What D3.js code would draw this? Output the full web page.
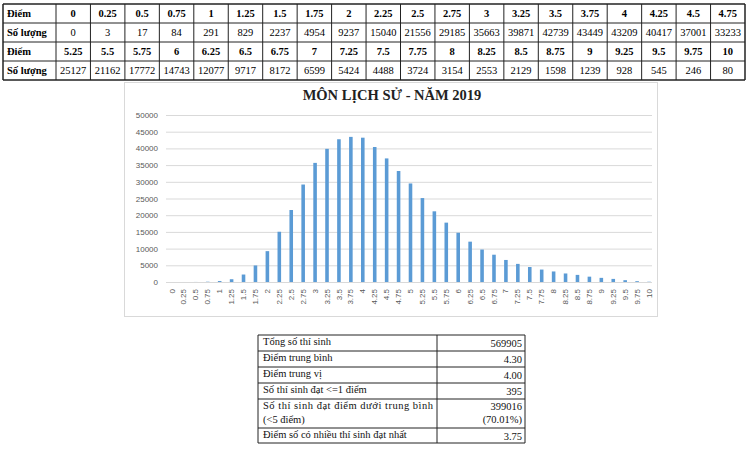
<!DOCTYPE html>
<html>
<head>
<meta charset="utf-8">
<script src="https://cdn.jsdelivr.net/npm/d3@7"></script>
<style>
  html, body { margin: 0; padding: 0; background: #fff; }
  svg { display: block; }
</style>
</head>
<body>
<svg id="c" width="750" height="449"></svg>
<script>
// ---- data ----
const scores = ["0","0.25","0.5","0.75","1","1.25","1.5","1.75","2","2.25","2.5","2.75","3","3.25","3.5","3.75","4","4.25","4.5","4.75","5","5.25","5.5","5.75","6","6.25","6.5","6.75","7","7.25","7.5","7.75","8","8.25","8.5","8.75","9","9.25","9.5","9.75","10"];
const counts = [0,3,17,84,291,829,2237,4954,9237,15040,21556,29185,35663,39871,42739,43449,43209,40417,37001,33233,29500,25127,21162,17772,14743,12077,9717,8172,6599,5424,4488,3724,3154,2553,2129,1598,1239,928,545,246,80];
const yTicks = [0,5000,10000,15000,20000,25000,30000,35000,40000,45000,50000];
const title = "MÔN LỊCH SỬ - NĂM 2019";
const rowHeaderScore = "Điểm";
const rowHeaderCount = "Số lượng";
const summaryLabels = [["Tổng số thí sinh"],["Điểm trung bình"],["Điểm trung vị"],["Số thí sinh đạt <=1 điểm"],["Số thí sinh đạt điểm dưới trung bình","(<5 điểm)"],["Điểm số có nhiều thí sinh đạt nhất"]];
const summaryValues = [["569905"],["4.30"],["4.00"],["395"],["399016","(70.01%)"],["3.75"]];

const svg = d3.select("#c");
const serif = "'Liberation Serif', 'Times New Roman', serif";
const sans = "'Liberation Sans', Arial, sans-serif";

// ---- top table ----
(function(){
  const g = svg.append("g");
  const x0 = 3, xh = 56, x1 = 745;
  const rows = [4, 23, 42, 61, 80];
  const nCols = 20;
  const colX = d3.scaleLinear().domain([0, nCols]).range([xh, x1]);
  const topIdx = d3.range(0, 20), botIdx = d3.range(21, 41);
  const blocks = [topIdx, botIdx];
  blocks.forEach((idx, b) => {
    const yS = rows[b*2], yC = rows[b*2+1];
    g.append("text").attr("x", x0+4).attr("y", yS+13).text(rowHeaderScore)
      .attr("font-family", serif).attr("font-size", 10.5).attr("font-weight", "bold");
    g.append("text").attr("x", x0+4).attr("y", yC+13).text(rowHeaderCount)
      .attr("font-family", serif).attr("font-size", 10.5).attr("font-weight", "bold");
    g.selectAll(null).data(idx).enter().append("text")
      .attr("x", (d,i) => colX(i+0.5)).attr("y", yS+13).attr("text-anchor","middle")
      .attr("font-family", serif).attr("font-size", 10.5).attr("font-weight","bold")
      .text(d => scores[d]);
    g.selectAll(null).data(idx).enter().append("text")
      .attr("x", (d,i) => colX(i+0.5)).attr("y", yC+13).attr("text-anchor","middle")
      .attr("font-family", serif).attr("font-size", 10.5)
      .text(d => counts[d]);
  });
  rows.forEach((y, i) => {
    g.append("line").attr("x1", x0).attr("x2", x1).attr("y1", y).attr("y2", y)
      .attr("stroke", "#222").attr("stroke-width", (i===0||i===4)?1.5:1);
  });
  const vx = [x0, xh].concat(d3.range(1, nCols+1).map(i => colX(i)));
  vx.forEach((x, i) => {
    g.append("line").attr("x1", x).attr("x2", x).attr("y1", rows[0]).attr("y2", rows[4])
      .attr("stroke", "#222").attr("stroke-width", (i===0||i===vx.length-1)?1.5:1);
  });
})();

// ---- chart ----
(function(){
  const g = svg.append("g");
  g.append("rect").attr("x", 124.5).attr("y", 82.5).attr("width", 533).attr("height", 234)
    .attr("fill", "#fff").attr("stroke", "#d9d9d9");
  g.append("text").attr("x", 392).attr("y", 100).attr("text-anchor","middle")
    .attr("font-family", serif).attr("font-size", 14.5).attr("font-weight","bold")
    .attr("fill", "#222").text(title);

  const x = d3.scaleBand().domain(scores).range([166, 655]).paddingInner(0.7).paddingOuter(0.35);
  const y = d3.scaleLinear().domain([0, 50000]).range([282, 115]);

  const grid = g.append("g").attr("transform", "translate(166,0)")
    .call(d3.axisLeft(y).tickValues(yTicks).tickSize(-486).tickFormat(""));
  grid.select(".domain").remove();
  grid.selectAll("line").attr("stroke", "#d9d9d9");

  const ya = g.append("g").attr("transform", "translate(158,0)")
    .call(d3.axisLeft(y).tickValues(yTicks).tickSize(0).tickPadding(0).tickFormat(d3.format("d")));
  ya.select(".domain").remove();
  ya.selectAll("text").attr("font-family", sans).attr("font-size", 8).attr("fill", "#595959");

  g.selectAll("rect.bar").data(counts).enter().append("rect").attr("class","bar")
    .attr("x", (d,i) => x(scores[i])).attr("width", x.bandwidth())
    .attr("y", d => y(d)).attr("height", d => y(0) - y(d))
    .attr("fill", "#5b9bd5");

  const xa = g.append("g").attr("transform", "translate(0,282)")
    .call(d3.axisBottom(x).tickSize(0).tickPadding(0));
  xa.select(".domain").remove();
  xa.selectAll("text")
    .attr("font-family", sans).attr("font-size", 8).attr("fill", "#595959")
    .attr("text-anchor", "end")
    .attr("transform", "translate(0,7) rotate(-90)")
    .attr("dx", 0).attr("dy", "0.32em").attr("x", 0).attr("y", 0);
})();

// ---- summary table ----
(function(){
  const g = svg.append("g");
  const xl = 258, xm = 437, xr = 525;
  const rowsY = [335, 351, 367, 383, 399, 428, 443];
  summaryLabels.forEach((lines, r) => {
    const top = rowsY[r];
    lines.forEach((t, k) => {
      const txt = g.append("text").attr("x", 263).attr("y", top + 10 + k*14)
        .attr("font-family", serif).attr("font-size", 10.5).attr("fill", "#111").text(t);
      if (lines.length > 1 && k === 0) txt.attr("textLength", 170).attr("lengthAdjust", "spacing");
    });
    summaryValues[r].forEach((t, k) => {
      g.append("text").attr("x", 522).attr("y", top + (lines.length>1 ? 11 : 12) + k*13)
        .attr("text-anchor","end")
        .attr("font-family", serif).attr("font-size", 10.5).attr("fill", "#111").text(t);
    });
  });
  rowsY.forEach(yv => {
    g.append("line").attr("x1", xl).attr("x2", xr).attr("y1", yv).attr("y2", yv)
      .attr("stroke", "#222").attr("stroke-width", 1);
  });
  [xl, xm, xr].forEach(xv => {
    g.append("line").attr("x1", xv).attr("x2", xv).attr("y1", rowsY[0]).attr("y2", rowsY[rowsY.length-1])
      .attr("stroke", "#222").attr("stroke-width", 1);
  });
})();
</script>
</body>
</html>
